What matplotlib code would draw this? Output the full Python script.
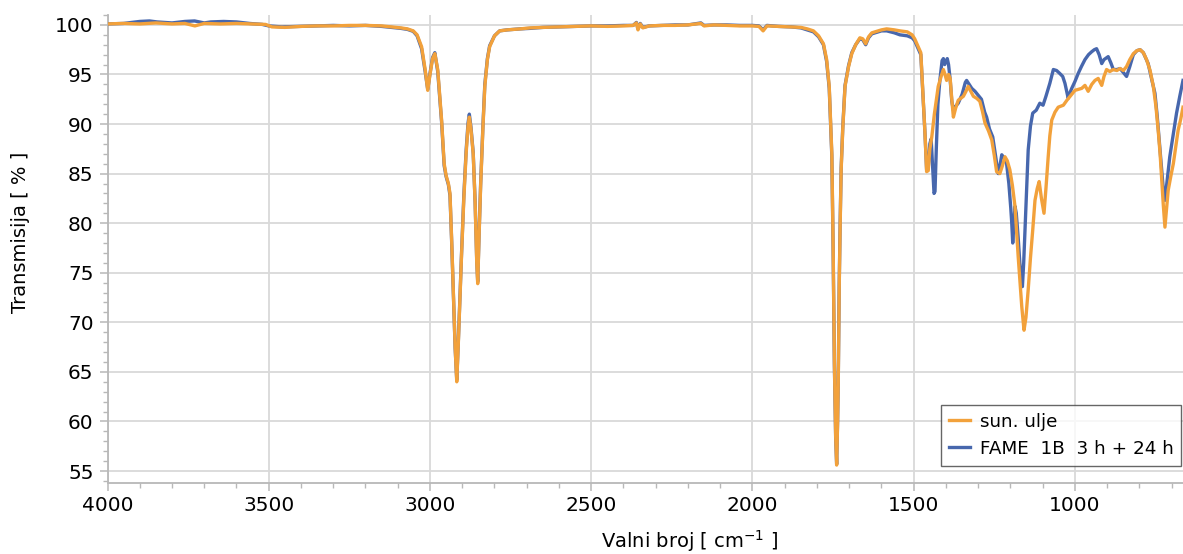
import matplotlib
matplotlib.use("Agg")
import matplotlib.pyplot as plt
from matplotlib.ticker import MultipleLocator

# ---------------- data ----------------
wn_oil = [4000, 3950, 3900, 3850, 3800, 3760, 3729, 3700, 3650, 3600, 3550, 3510, 3490,
          3450, 3400, 3350, 3300, 3250, 3200, 3150, 3120, 3090, 3070, 3052, 3040, 3026,
          3015, 3007, 3000, 2992, 2985, 2976, 2964, 2956, 2950, 2943, 2938, 2933, 2928,
          2922, 2917, 2912, 2907, 2902, 2895, 2888, 2882, 2878, 2873, 2866, 2860, 2855,
          2852, 2848, 2843, 2836, 2830, 2822, 2815, 2800, 2784, 2760, 2720, 2690, 2650,
          2600, 2550, 2500, 2450, 2400, 2370, 2360, 2355, 2348, 2340, 2320, 2280, 2240,
          2200, 2160, 2150, 2120, 2080, 2040, 2000, 1980, 1967, 1955, 1920, 1880, 1850,
          1830, 1811, 1795, 1780, 1770, 1762, 1754, 1750, 1746, 1742, 1739, 1736, 1734,
          1731, 1728, 1725, 1720, 1713, 1702, 1692, 1680, 1667, 1658, 1649, 1640, 1630,
          1600, 1584, 1560, 1543, 1520, 1505, 1497, 1486, 1478, 1470, 1465, 1460, 1455,
          1450, 1444, 1436, 1424, 1415, 1408, 1403, 1398, 1392, 1387, 1382, 1377, 1370,
          1362, 1346, 1338, 1331, 1323, 1315, 1305, 1295, 1287, 1279, 1268, 1258, 1250,
          1243, 1233, 1225, 1217, 1210, 1202, 1194, 1186, 1176, 1165, 1158, 1152, 1145,
          1138, 1131, 1124, 1117, 1111, 1104, 1096, 1090, 1083, 1078, 1072, 1062, 1052,
          1036, 1025, 1015, 1000, 990, 979, 969, 959, 948, 938, 928, 917, 910, 902, 892,
          881, 870, 860, 850, 840, 830, 819, 808, 798, 788, 778, 767, 757, 749, 742, 736,
          731, 726, 721, 716, 711, 703, 695, 688, 680, 672, 665]
t_oil = [100.1, 100.15, 100.1, 100.2, 100.1, 100.15, 99.9, 100.15, 100.1, 100.15, 100.1,
         100.05, 99.8, 99.75, 99.85, 99.9, 99.9, 99.95, 99.95, 99.9, 99.8, 99.7, 99.6,
         99.4, 99.0, 97.8, 95.5, 93.4, 95.0, 96.6, 97.1, 95.5, 90.4, 86.0, 84.8, 84.0,
         83.0, 78.5, 73.6, 67.5, 64.0, 68.0, 72.5, 76.9, 82.5, 87.0, 89.8, 90.7, 89.5,
         87.0, 82.0, 76.0, 73.9, 78.5, 83.7, 89.5, 93.8, 96.5, 97.8, 98.9, 99.4, 99.5,
         99.6, 99.7, 99.75, 99.8, 99.85, 99.9, 99.85, 99.9, 99.95, 100.2, 99.5, 100.1,
         99.7, 99.9, 99.95, 99.95, 100.0, 100.15, 99.9, 100.0, 99.95, 99.9, 99.9, 99.85,
         99.4, 99.9, 99.85, 99.8, 99.75, 99.6, 99.4, 98.9, 98.1, 96.5, 93.8, 87.1, 78.0,
         66.0, 58.5, 55.6, 60.0, 64.0, 73.6, 80.0, 85.4, 89.5, 93.8, 95.8, 97.1, 98.0,
         98.7, 98.6, 98.1, 98.8, 99.2, 99.5, 99.6, 99.5, 99.4, 99.3, 99.0, 98.6, 97.8,
         97.2, 92.1, 89.0, 85.2, 85.3, 87.5, 88.7, 91.0, 93.8, 94.8, 95.5, 95.0, 94.4,
         95.0, 94.6, 92.5, 90.7, 91.6, 92.4, 92.8, 93.3, 93.8, 93.3, 92.8, 92.6, 92.3,
         91.3, 90.1, 89.3, 88.4, 86.8, 85.2, 85.0, 85.8, 86.7, 86.3, 85.4, 83.8, 81.7,
         76.6, 71.6, 69.2, 70.5, 73.3, 76.5, 79.3, 82.3, 83.5, 84.2, 82.5, 81.0, 83.5,
         86.7, 88.8, 90.4, 91.2, 91.7, 91.9, 92.4, 92.8, 93.4, 93.5, 93.6, 93.9, 93.3,
         94.0, 94.4, 94.6, 93.9, 94.8, 95.5, 95.3, 95.5, 95.4, 95.6, 95.4, 95.8, 96.5,
         97.1, 97.4, 97.5, 97.2, 96.5, 95.4, 93.8, 91.8, 89.4, 87.0, 84.4, 81.8, 79.6,
         81.5, 83.3, 84.7, 86.0, 87.6, 89.4, 90.5, 91.7]

wn_fame = [4000, 3950, 3900, 3870, 3846, 3800, 3760, 3730, 3700, 3680, 3640, 3600, 3560,
           3520, 3500, 3460, 3400, 3350, 3300, 3250, 3200, 3150, 3120, 3090, 3070, 3052,
           3040, 3026, 3015, 3007, 3000, 2992, 2985, 2976, 2964, 2956, 2950, 2943, 2938,
           2933, 2928, 2922, 2917, 2912, 2907, 2902, 2895, 2888, 2882, 2878, 2873, 2866,
           2860, 2855, 2852, 2848, 2843, 2836, 2830, 2822, 2815, 2800, 2784, 2760, 2720,
           2690, 2650, 2600, 2550, 2500, 2450, 2400, 2370, 2360, 2355, 2348, 2340, 2320,
           2280, 2240, 2200, 2160, 2150, 2120, 2080, 2040, 2000, 1980, 1967, 1955, 1920,
           1880, 1850, 1830, 1811, 1795, 1780, 1770, 1762, 1754, 1750, 1746, 1742, 1739,
           1736, 1734, 1731, 1728, 1725, 1720, 1713, 1702, 1692, 1680, 1667, 1658, 1649,
           1640, 1630, 1600, 1584, 1560, 1543, 1520, 1505, 1497, 1486, 1478, 1470, 1465,
           1460, 1455, 1450, 1446, 1442, 1437, 1434, 1430, 1425, 1419, 1412, 1408, 1404,
           1400, 1396, 1392, 1387, 1382, 1377, 1370, 1362, 1350, 1340, 1336, 1328, 1320,
           1310, 1300, 1290, 1280, 1274, 1265, 1255, 1245, 1238, 1232, 1227, 1220, 1212,
           1205, 1199, 1196, 1193, 1190, 1186, 1182, 1176, 1171, 1166, 1163, 1159, 1155,
           1150, 1145, 1138, 1131, 1120, 1109, 1099, 1090, 1078, 1067, 1057, 1047, 1038,
           1031, 1021, 1015, 1010, 1000, 990, 980, 969, 958, 948, 940, 933, 925, 917, 910,
           897, 889, 881, 870, 860, 850, 840, 830, 819, 808, 798, 788, 773, 762, 752, 745,
           737, 730, 725, 721, 716, 711, 706, 695, 685, 675, 665]
t_fame = [100.1, 100.15, 100.35, 100.4, 100.3, 100.2, 100.35, 100.4, 100.2, 100.3, 100.35,
          100.3, 100.15, 100.05, 99.9, 99.8, 99.85, 99.9, 99.95, 99.9, 99.95, 99.85, 99.75,
          99.65, 99.55, 99.35, 98.9, 97.6, 95.3, 93.5, 95.1, 96.7, 97.2, 95.3, 90.2, 85.8,
          84.7, 83.9, 82.8, 78.3, 73.4, 67.4, 64.2, 68.2, 72.8, 77.1, 82.8, 87.3, 90.1,
          91.0, 89.7, 87.1, 82.1, 76.2, 74.1, 78.7, 83.9, 89.7, 94.0, 96.6, 97.9, 98.9,
          99.4, 99.5, 99.6, 99.65, 99.75, 99.8, 99.85, 99.9, 99.9, 99.95, 99.95, 100.25,
          99.6, 100.15, 99.75, 99.9, 99.95, 100.0, 100.0, 100.2, 99.95, 100.0, 100.0,
          99.95, 99.95, 99.9, 99.5, 99.95, 99.85, 99.8, 99.7, 99.5, 99.3, 98.8, 98.0, 96.3,
          93.6, 86.8, 77.5, 65.7, 58.3, 55.7, 60.2, 64.3, 73.9, 80.3, 85.6, 89.7, 93.9,
          95.9, 97.2, 98.0, 98.6, 98.5, 98.0, 98.7, 99.1, 99.4, 99.4, 99.2, 99.0, 98.9,
          98.7, 98.4, 97.6, 97.0, 92.0, 89.0, 85.4, 85.6, 88.0, 88.5, 86.0, 83.0, 83.2,
          87.5, 92.0, 94.4, 96.4, 96.6, 96.0, 96.3, 96.6, 96.0, 94.5, 92.3, 91.4, 91.8,
          92.1, 93.0, 94.2, 94.4, 94.0, 93.6, 93.3, 92.9, 92.5, 91.2, 90.7, 89.5, 88.7,
          86.5, 85.0, 85.9, 86.9, 86.6, 86.0, 84.0, 81.5, 80.0, 78.0, 79.5, 81.7, 81.0,
          78.5, 76.0, 74.2, 73.6, 76.0, 79.3, 83.5, 87.4, 89.8, 91.1, 91.4, 92.1, 91.9,
          92.8, 94.1, 95.5, 95.4, 95.1, 94.8, 94.1, 92.6, 93.2, 93.6, 94.3, 95.1, 95.8,
          96.5, 97.0, 97.3, 97.5, 97.6, 97.0, 96.1, 96.5, 96.8, 96.2, 95.5, 95.5, 95.6,
          95.2, 94.8, 95.8, 97.0, 97.4, 97.5, 97.2, 96.1, 94.5, 93.1, 90.8, 87.7, 85.0,
          83.0, 82.3, 83.8, 85.2, 86.7, 89.0, 91.1, 92.8, 94.4]

label_oil = "sun. ulje"
label_fame = "FAME  1B  3 h + 24 h"
x_ticks = [4000, 3500, 3000, 2500, 2000, 1500, 1000]
y_ticks = [55, 60, 65, 70, 75, 80, 85, 90, 95, 100]

# ---------------- figure ----------------
W, H = 1183, 554
fig = plt.figure(figsize=(W / 100, H / 100), dpi=100)
left_px, right_px, top_px, bottom_px = 107.5, 1183, 15, 482.5
ax = fig.add_axes([left_px / W, 1 - bottom_px / H,
                   (right_px - left_px) / W, (bottom_px - top_px) / H])

c_oil = "#F2A13B"
c_fame = "#4767AD"
l_fame, = ax.plot(wn_fame, t_fame, color=c_fame, lw=2.4, label=label_fame,
                  solid_joinstyle="round", zorder=3)
l_oil, = ax.plot(wn_oil, t_oil, color=c_oil, lw=2.4, label=label_oil,
                 solid_joinstyle="round", zorder=4)

ax.set_xlim(4000, 665)
ax.set_ylim(53.84, 101.0)
ax.set_xticks(x_ticks)
ax.set_yticks(y_ticks)
ax.xaxis.set_minor_locator(MultipleLocator(100))
ax.yaxis.set_minor_locator(MultipleLocator(1))

ax.grid(True, which="major", color="#d9d9d9", lw=1.3, zorder=0)
ax.set_axisbelow(True)
for s in ["top", "right"]:
    ax.spines[s].set_visible(False)
for s in ["left", "bottom"]:
    ax.spines[s].set_color("#b8b8b8")
    ax.spines[s].set_linewidth(1.3)

ax.tick_params(which="major", direction="out", length=6, width=1.1,
               color="#b8b8b8", labelsize=14.5, labelcolor="#000000")
ax.tick_params(which="minor", direction="out", length=3.5, width=1.0,
               color="#b8b8b8")
ax.tick_params(axis="x", pad=4)
ax.tick_params(axis="y", pad=4)

fig.text(20 / W, 1 - 232 / H, "Transmisija [ % ]", rotation=90,
         ha="center", va="center", fontsize=14)
fig.text(690 / W, 1 - 541 / H, "Valni broj [ cm$^{-1}$ ]",
         ha="center", va="center", fontsize=14)

leg = fig.legend([l_oil, l_fame], [label_oil, label_fame],
                 loc="upper left", bbox_to_anchor=(941 / W, 1 - 405 / H),
                 bbox_transform=fig.transFigure, fontsize=13.2, frameon=True,
                 fancybox=False, shadow=False, borderaxespad=0,
                 handlelength=1.15, handletextpad=0.55, labelspacing=0.5,
                 borderpad=0.42)
leg.get_frame().set_edgecolor("#404040")
leg.get_frame().set_linewidth(1.0)
for ln in leg.get_lines():
    ln.set_linewidth(2.4)

fig.savefig("out.png", dpi=100)
